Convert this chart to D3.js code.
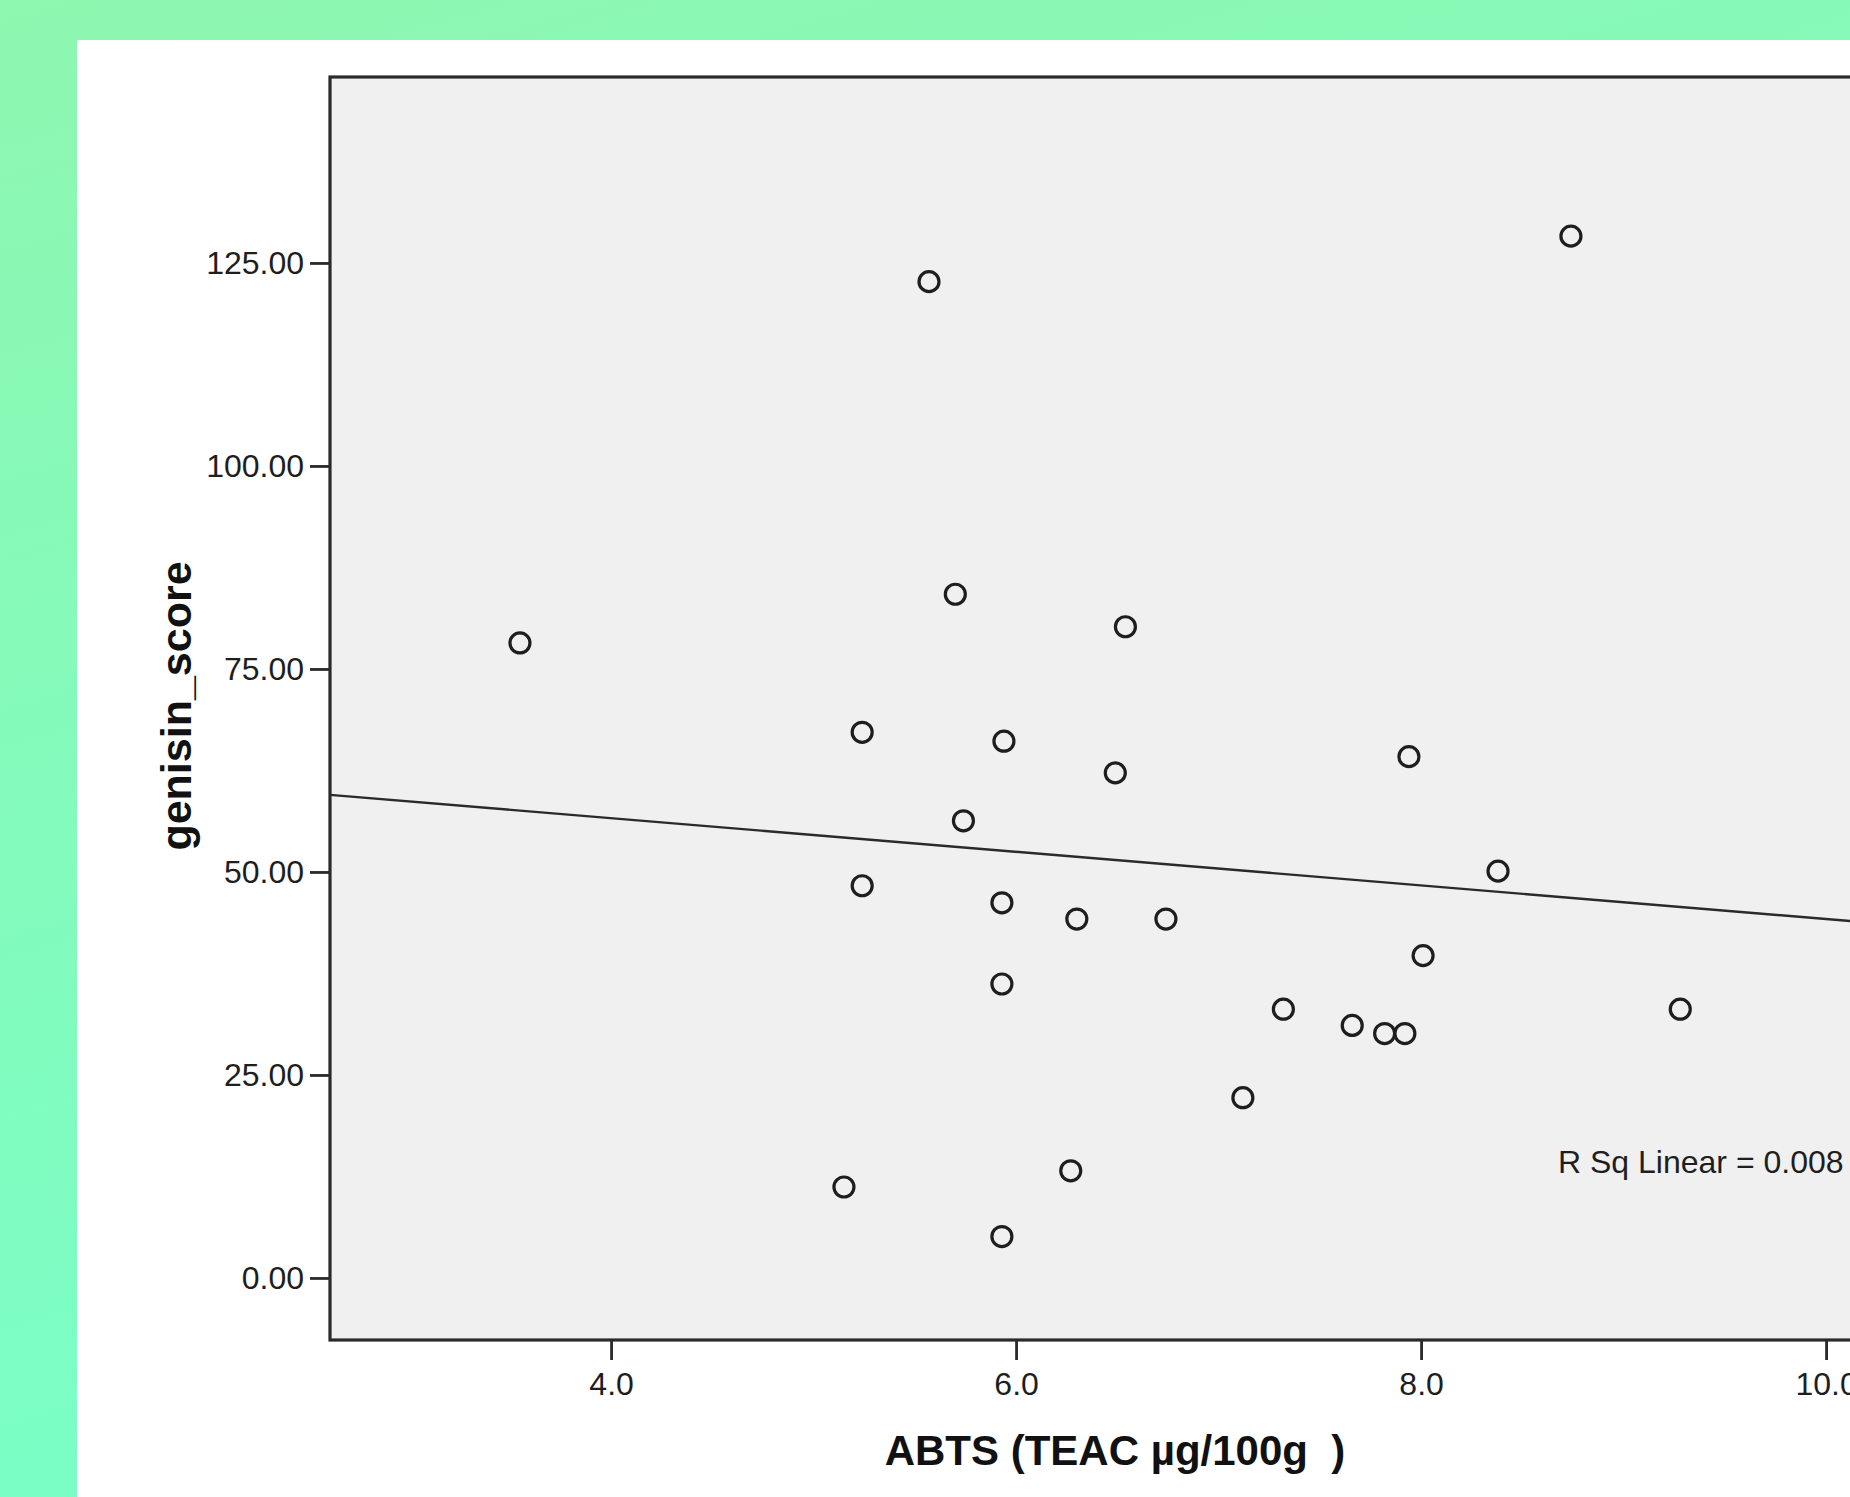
<!DOCTYPE html>
<html>
<head>
<meta charset="utf-8">
<script src="https://cdn.jsdelivr.net/npm/d3@7"></script>
<style>
  html, body { margin: 0; padding: 0; overflow: hidden; }
  svg { display: block; font-family: "Liberation Sans", Arial, sans-serif; }
</style>
</head>
<body>
<script>
// values
const abts = [3.55, 5.57, 8.74, 5.70, 6.54, 5.24, 5.94, 6.49, 7.94, 5.74, 8.38, 5.24, 5.93,
              6.30, 6.74, 8.01, 5.93, 7.32, 9.28, 7.66, 7.82, 7.92, 7.12, 6.27, 5.15, 5.93];
const genisin = [78.2, 122.7, 128.3, 84.2, 80.2, 67.2, 66.1, 62.2, 64.2, 56.3, 50.1, 48.3, 46.2,
                 44.2, 44.2, 39.7, 36.2, 33.1, 33.1, 31.1, 30.1, 30.1, 22.2, 13.2, 11.2, 5.1];
const xTicks = [4, 6, 8, 10];
const yTicks = [0, 25, 50, 75, 100, 125];
const fitIntercept = 64.9;
const fitSlope = -2.07;
const rSqLabel = 'R Sq Linear = 0.008';
const xTitle = 'ABTS (TEAC \u00b5g/100g  )';
const yTitle = 'genisin_score';

const width = 1850;
const height = 1497;
const plot = { left: 330, top: 77, right: 1901, bottom: 1340 };

const svg = d3.select('body').append('svg')
    .attr('width', width)
    .attr('height', height);

const bg = svg.append('defs').append('linearGradient')
    .attr('id', 'bg')
    .attr('x1', 0).attr('y1', 0)
    .attr('x2', 0.35).attr('y2', 1);
bg.append('stop').attr('offset', '0%').attr('stop-color', '#8ef7b0');
bg.append('stop').attr('offset', '100%').attr('stop-color', '#78ffc8');

svg.append('rect')
    .attr('width', width).attr('height', height)
    .attr('fill', 'url(#bg)');

svg.append('rect')
    .attr('x', 77).attr('y', 40)
    .attr('width', width - 77).attr('height', height - 40)
    .attr('fill', '#ffffff');

const x = d3.scaleLinear()
    .domain([2.612, 10.37])
    .range([plot.left, plot.right]);

const y = d3.scaleLinear()
    .domain([-7.64, 147.9])
    .range([plot.bottom, plot.top]);

svg.append('rect')
    .attr('x', plot.left).attr('y', plot.top)
    .attr('width', plot.right - plot.left)
    .attr('height', plot.bottom - plot.top)
    .attr('fill', '#f0f0f0')
    .attr('stroke', '#2a2a2a')
    .attr('stroke-width', 3.2);

const xAxis = svg.append('g')
    .attr('transform', `translate(0,${plot.bottom})`)
    .call(d3.axisBottom(x)
        .tickValues(xTicks)
        .tickFormat(d3.format('.1f'))
        .tickSize(20)
        .tickPadding(12));

const yAxis = svg.append('g')
    .attr('transform', `translate(${plot.left},0)`)
    .call(d3.axisLeft(y)
        .tickValues(yTicks)
        .tickFormat(d3.format('.2f'))
        .tickSize(20)
        .tickPadding(6));

[xAxis, yAxis].forEach(g => {
    g.select('.domain').remove();
    g.selectAll('.tick line').attr('stroke', '#2a2a2a').attr('stroke-width', 2.8);
    g.selectAll('.tick text')
        .attr('fill', '#1e1e1e')
        .style('font-size', '32px');
});

// fit line
const line = d3.line()
    .x(d => x(d))
    .y(d => y(fitIntercept + fitSlope * d));

svg.append('path')
    .datum(x.domain())
    .attr('fill', 'none')
    .attr('stroke', '#2a2a2a')
    .attr('stroke-width', 2.4)
    .attr('d', line);

svg.append('g')
    .selectAll('circle')
    .data(abts.map((v, i) => [v, genisin[i]]))
    .join('circle')
    .attr('cx', d => x(d[0]))
    .attr('cy', d => y(d[1]))
    .attr('r', 10)
    .attr('fill', 'none')
    .attr('stroke', '#1e1e1e')
    .attr('stroke-width', 3.2);

svg.append('text')
    .attr('x', 1558).attr('y', 1173)
    .attr('fill', '#1e1e1e')
    .style('font-size', '32px')
    .text(rSqLabel);

svg.append('text')
    .attr('x', 1115).attr('y', 1465)
    .attr('text-anchor', 'middle')
    .attr('fill', '#111111')
    .style('font-size', '42px')
    .style('font-weight', 'bold')
    .style('white-space', 'pre')
    .text(xTitle);

svg.append('text')
    .attr('transform', 'translate(191,706) rotate(-90)')
    .attr('text-anchor', 'middle')
    .attr('fill', '#111111')
    .style('font-size', '43px')
    .style('font-weight', 'bold')
    .text(yTitle);
</script>
</body>
</html>
